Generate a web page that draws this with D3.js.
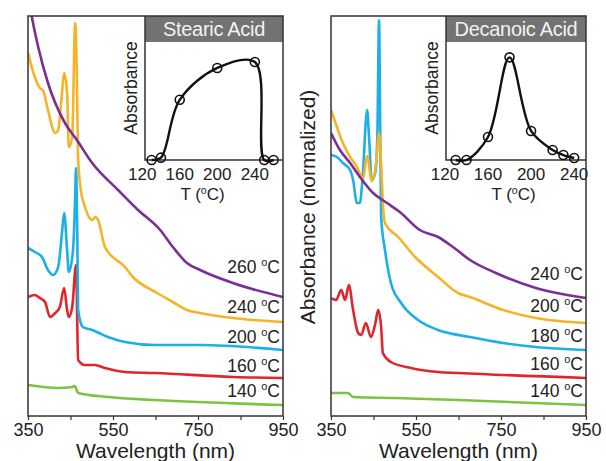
<!DOCTYPE html>
<html>
<head>
<meta charset="utf-8">
<script src="https://cdn.jsdelivr.net/npm/d3@7"></script>
<style>
  body { margin: 0; background: #fff; }
  text { font-family: "Liberation Sans", Arial, sans-serif; fill: #222; }
</style>
</head>
<body>
<div id="chart"></div>
<script>
// ---- data (absorbance in arbitrary offset units) ----
const tickValues = [350, 450, 550, 650, 750, 850, 950];
const tickLabels = [350, 550, 750, 950];
const insetTicks = [120, 160, 200, 240];

// stearic acid spectra
const st260nm = [350, 359, 374, 397, 437, 465, 501, 562, 609, 661, 691, 724, 755, 832, 950];
const st260 = [105, 99.75, 92.25, 83.25, 73.25, 69, 63.25, 56.5, 51.5, 46.5, 42.25, 38.25, 36.5, 33.25, 29.75];
const st240nm = [350, 366, 378, 385, 397, 414, 421, 430, 435, 442, 446, 454, 461, 465, 468, 477, 479, 501, 508, 515, 531, 578, 597, 654, 691, 724, 755, 832, 950];
const st240 = [90.75, 84.75, 82, 81.5, 76.5, 70.75, 71.5, 80.75, 85.75, 80.75, 67.25, 69.75, 98.25, 84.75, 64, 54.75, 54, 49, 49.75, 49, 42.25, 37.25, 34.75, 30.75, 28.5, 26.5, 25.75, 24.5, 23.5];
const st200nm = [350, 366, 383, 397, 409, 421, 430, 435, 442, 446, 456, 461, 463, 466, 468, 479, 501, 512, 538, 578, 649, 755, 950];
const st200 = [42, 41, 39.75, 36.5, 35.25, 37.25, 45.75, 50.75, 41.5, 36, 41.5, 55, 62, 45, 26.5, 22.25, 21.5, 21, 19.75, 18.5, 17.75, 17.75, 16.5];
const st160nm = [350, 366, 378, 390, 402, 414, 425, 435, 442, 446, 454, 463, 468, 484, 508, 531, 578, 649, 832, 950];
const st160 = [29.75, 30.25, 29.5, 28.5, 24.75, 25.75, 27.25, 32, 26.5, 24.75, 27.25, 37.75, 14, 12.75, 12.75, 12, 11, 10.75, 9.75, 9.5];
const st140nm = [350, 421, 454, 460, 468, 538, 649, 950];
const st140 = [7.75, 7, 7.25, 7.5, 5.75, 4.75, 4, 2.75];

// decanoic acid spectra
const de240nm = [350, 371, 395, 418, 449, 482, 512, 559, 602, 637, 677, 738, 832, 950];
const de240 = [70.75, 66.5, 63.25, 59.75, 55.75, 53.25, 51, 46.5, 44.75, 42.25, 39, 35.75, 32, 29.5];
const de200nm = [350, 364, 378, 395, 411, 425, 435, 446, 456, 463, 468, 472, 477, 508, 548, 602, 649, 677, 755, 832, 950];
const de200 = [76.5, 72.25, 68.25, 64.75, 62.25, 59.25, 65, 58.75, 63, 70.75, 63, 53.25, 48.25, 44.75, 39.75, 34.75, 30.75, 29.75, 26.5, 24.5, 23.25];
const de180nm = [350, 364, 378, 395, 402, 411, 418, 425, 435, 439, 446, 454, 459, 463, 466, 468, 477, 491, 515, 555, 602, 677, 755, 832, 950];
const de180 = [65.25, 64.75, 63.25, 61.5, 59, 53.25, 53.25, 60.75, 76.5, 70.75, 59, 60.75, 70, 99, 70, 49.75, 41.5, 33.25, 28.25, 24, 21.5, 19.75, 18.25, 17.25, 16.5];
const de160nm = [350, 362, 374, 383, 392, 402, 414, 421, 432, 444, 454, 461, 468, 472, 491, 538, 602, 649, 950];
const de160 = [29.5, 29, 31.5, 29, 32.75, 26.5, 20.75, 20.25, 23.25, 19.75, 23, 26.5, 22.25, 15.75, 13.5, 12, 11, 10.75, 9.5];
const de140nm = [350, 390, 402, 501, 649, 950];
const de140 = [5.75, 5.75, 4.75, 4.5, 4, 2.75];

// insets: absorbance vs temperature
const stInsetT = [130, 140, 160, 200, 240, 250, 260];
const stInsetA = [0, 0.02, 0.51, 0.78, 0.83, 0, 0];
const deInsetT = [130, 140, 160, 180, 200, 220, 230, 240];
const deInsetA = [0, 0, 0.195, 0.87, 0.246, 0.085, 0.042, 0.017];

const colors = { 260: "#7a2f96", 240: "#f5b325", 200: "#1cb0e6", 180: "#1cb0e6", 160: "#e1262b", 140: "#7cc243" };

const zip = (xs, ys) => xs.map((x, i) => ({ x, y: ys[i] }));

const panels = [
  {
    name: "Stearic Acid", x0: 28,
    series: [
      { t: 260, d: zip(st260nm, st260), c: colors[260], ly: 273 },
      { t: 240, d: zip(st240nm, st240), c: colors[240], ly: 313 },
      { t: 200, d: zip(st200nm, st200), c: colors[200], ly: 343 },
      { t: 160, d: zip(st160nm, st160), c: colors[160], ly: 372 },
      { t: 140, d: zip(st140nm, st140), c: colors[140], ly: 397 }
    ],
    inset: zip(stInsetT, stInsetA), insetDomain: [123, 270], insetLeft: 145
  },
  {
    name: "Decanoic Acid", x0: 331,
    series: [
      { t: 240, d: zip(de240nm, de240), c: colors[260], ly: 280 },
      { t: 200, d: zip(de200nm, de200), c: colors[240], ly: 312 },
      { t: 180, d: zip(de180nm, de180), c: colors[180], ly: 342 },
      { t: 160, d: zip(de160nm, de160), c: colors[160], ly: 370 },
      { t: 140, d: zip(de140nm, de140), c: colors[140], ly: 397 }
    ],
    inset: zip(deInsetT, deInsetA), insetDomain: [121, 251], insetLeft: 446
  }
];

const W = 606, H = 461;
const pw = 255, plotTop = 16, plotBottom = 416;

const svg = d3.select("#chart").append("svg")
  .attr("width", W).attr("height", H);

panels.forEach((p, pi) => {
  const x = d3.scaleLinear().domain([350, 950]).range([p.x0, p.x0 + pw]);
  const y = d3.scaleLinear().domain([0, 100]).range([plotBottom, plotTop]);

  const g = svg.append("g");
  const clipId = "clip" + pi;
  svg.append("clipPath").attr("id", clipId)
    .append("rect").attr("x", p.x0).attr("y", plotTop).attr("width", pw).attr("height", plotBottom - plotTop);

  const line = d3.line().x(d => x(d.x)).y(d => y(d.y)).curve(d3.curveMonotoneX);

  g.append("g").attr("clip-path", `url(#${clipId})`)
    .selectAll("path")
    .data(p.series.slice().reverse())
    .join("path")
    .attr("d", d => line(d.d))
    .attr("fill", "none")
    .attr("stroke", d => d.c)
    .attr("stroke-width", 2.6)
    .attr("stroke-linejoin", "round");

  // curve labels
  const lab = g.selectAll(".lab").data(p.series).join("text")
    .attr("class", "lab")
    .attr("x", p.x0 + pw - 3)
    .attr("y", d => d.ly)
    .attr("text-anchor", "end")
    .style("font-size", "17.5px");
  lab.append("tspan").text(d => d.t + " ");
  lab.append("tspan").text("o").attr("dy", -7).style("font-size", "11px");
  lab.append("tspan").text("C").attr("dy", 7);

  // bottom axis
  const ax = g.append("g")
    .attr("transform", `translate(0,${plotBottom})`)
    .call(d3.axisBottom(x).tickValues(tickValues)
      .tickFormat(v => tickLabels.includes(v) ? v : "")
      .tickSize(4).tickPadding(3));
  ax.select(".domain").remove();
  ax.selectAll("line").attr("stroke", "#333").attr("stroke-width", 1.2);
  ax.selectAll("text").style("font-size", "18px").style("fill", "#222")
    .attr("font-family", null);

  g.append("text")
    .attr("x", p.x0 + pw / 2).attr("y", 458)
    .attr("text-anchor", "middle")
    .style("font-size", "21px")
    .text("Wavelength (nm)");

  // inset
  const ix = d3.scaleLinear().domain(p.insetDomain).range([p.insetLeft, p.x0 + pw]);
  const iy = d3.scaleLinear().domain([0, 1]).range([160, 42]);
  const ig = g.append("g");
  ig.append("rect")
    .attr("x", ix.range()[0]).attr("y", plotTop)
    .attr("width", ix.range()[1] - ix.range()[0]).attr("height", iy.range()[1] - plotTop)
    .attr("fill", "#737373");
  ig.append("text")
    .attr("x", (ix.range()[0] + ix.range()[1]) / 2).attr("y", 36)
    .attr("text-anchor", "middle")
    .style("font-size", "20px").style("fill", "#f2f2f2")
    .style("letter-spacing", "-0.3px")
    .text(p.name);
  ig.append("path")
    .attr("d", `M${ix.range()[0]},${plotTop}V${iy(0)}H${ix.range()[1]}`)
    .attr("fill", "none").attr("stroke", "#333").attr("stroke-width", 1.5);

  const iline = d3.line().x(d => ix(d.x)).y(d => iy(d.y)).curve(d3.curveCatmullRom.alpha(0.5));
  ig.append("path").attr("d", iline(p.inset))
    .attr("fill", "none").attr("stroke", "#111").attr("stroke-width", 2.4);
  ig.selectAll("circle").data(p.inset).join("circle")
    .attr("cx", d => ix(d.x)).attr("cy", d => iy(d.y)).attr("r", 4.5)
    .attr("fill", "none").attr("stroke", "#111").attr("stroke-width", 1.6);

  ig.selectAll(".itick").data(insetTicks).join("text")
    .attr("class", "itick")
    .attr("x", d => ix(d)).attr("y", 180)
    .attr("text-anchor", "middle")
    .style("font-size", "17px")
    .text(d => d);
  const tl = ig.append("text")
    .attr("x", (ix(insetTicks[0]) + ix(insetTicks[3])) / 2 + 4).attr("y", 200)
    .attr("text-anchor", "middle")
    .style("font-size", "17px");
  tl.append("tspan").text("T (");
  tl.append("tspan").text("o").attr("dy", -6).style("font-size", "10.5px");
  tl.append("tspan").text("C)").attr("dy", 6);

  ig.append("text")
    .attr("transform", `translate(${ix.range()[0] - 8},${(iy(0) + iy(1)) / 2 - 13}) rotate(-90)`)
    .attr("text-anchor", "middle")
    .style("font-size", "17.5px")
    .text("Absorbance");

  // frame
  g.append("rect")
    .attr("x", p.x0).attr("y", plotTop).attr("width", pw).attr("height", plotBottom - plotTop)
    .attr("fill", "none").attr("stroke", "#333").attr("stroke-width", 1.5);
});

svg.append("text")
  .attr("transform", `translate(315,207) rotate(-90)`)
  .attr("text-anchor", "middle")
  .style("font-size", "21px")
  .text("Absorbance (normalized)");
</script>
</body>
</html>
